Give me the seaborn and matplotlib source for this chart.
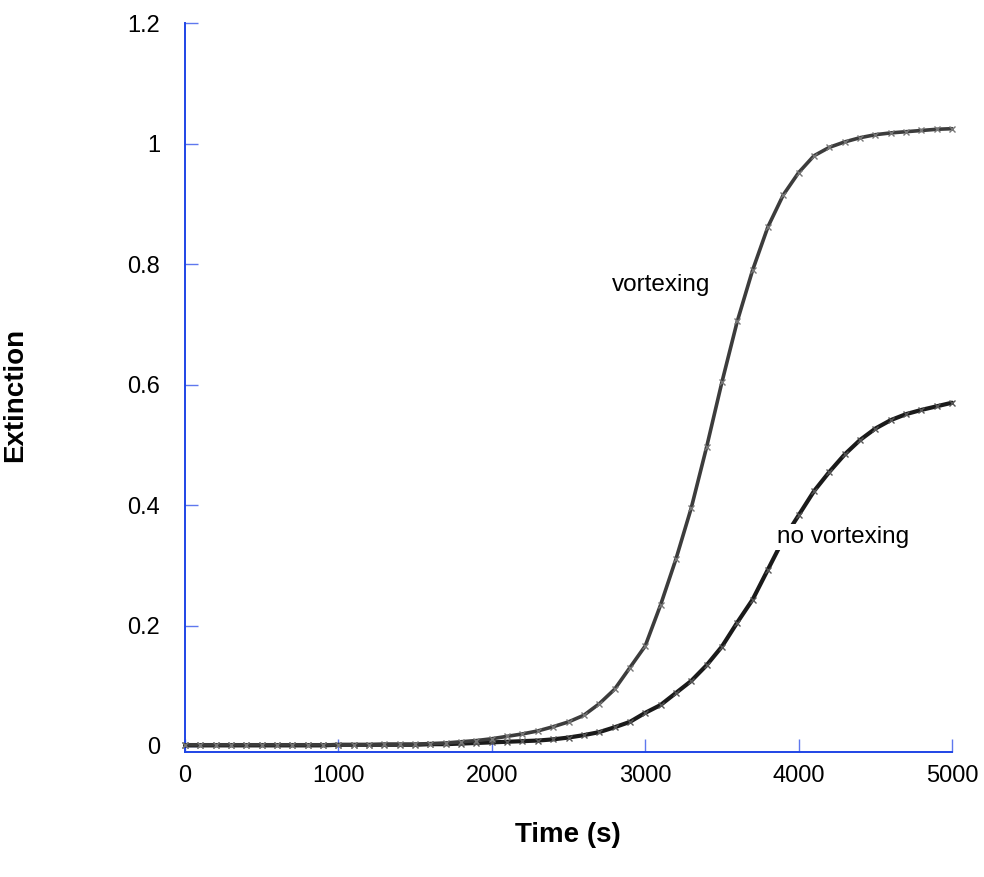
import numpy as np
import pandas as pd
import matplotlib
matplotlib.use("Agg")
import matplotlib.pyplot as plt
import seaborn as sns

time_s = list(range(0, 5001, 100))

vortexing = [0.002, 0.002, 0.002, 0.002, 0.002, 0.002, 0.002, 0.002, 0.002, 0.002,
             0.002, 0.002, 0.002, 0.003, 0.003, 0.003, 0.004, 0.005, 0.007, 0.009,
             0.012, 0.016, 0.020, 0.025, 0.032, 0.040, 0.051, 0.070, 0.094, 0.130,
             0.166, 0.234, 0.310, 0.395, 0.496, 0.604, 0.705, 0.790, 0.862, 0.915,
             0.952, 0.980, 0.994, 1.003, 1.010, 1.015, 1.018, 1.020, 1.022, 1.024,
             1.025]

no_vortexing = [0.001, 0.001, 0.001, 0.001, 0.001, 0.001, 0.001, 0.001, 0.001, 0.001,
                0.002, 0.002, 0.002, 0.002, 0.002, 0.002, 0.003, 0.003, 0.004, 0.005,
                0.006, 0.007, 0.008, 0.009, 0.011, 0.014, 0.018, 0.023, 0.031, 0.040,
                0.055, 0.068, 0.088, 0.108, 0.134, 0.165, 0.205, 0.243, 0.293, 0.343,
                0.383, 0.423, 0.455, 0.484, 0.508, 0.527, 0.541, 0.551, 0.558, 0.564,
                0.570]

series_names = ["vortexing", "no vortexing"]
x_ticks = [0, 1000, 2000, 3000, 4000, 5000]
y_ticks = [0, 0.2, 0.4, 0.6, 0.8, 1.0, 1.2]
y_tick_labels = ["0", "0.2", "0.4", "0.6", "0.8", "1", "1.2"]

df = pd.DataFrame({
    "Time (s)": time_s * 2,
    "Extinction": vortexing + no_vortexing,
    "series": [series_names[0]] * len(time_s) + [series_names[1]] * len(time_s),
})

sns.set_style("white")
plt.rcParams["font.family"] = ["Liberation Sans", "DejaVu Sans"]
plt.rcParams["text.color"] = "black"
plt.rcParams["axes.labelcolor"] = "black"

fig = plt.figure(figsize=(9.84, 8.77), dpi=100)
ax = fig.add_axes([185 / 984, 1 - 752 / 877, 767 / 984, (752 - 23.3) / 877])

sns.lineplot(data=df[df["series"] == "no vortexing"], x="Time (s)", y="Extinction",
             color="#1a1a1a", marker="x", markersize=4.5, markeredgewidth=1.0,
             linewidth=3.0, markeredgecolor="#555555", legend=False, ax=ax,
             clip_on=False, zorder=3)
sns.lineplot(data=df[df["series"] == "vortexing"], x="Time (s)", y="Extinction",
             color="#3c3c3c", marker="x", markersize=4.5, markeredgewidth=1.0,
             linewidth=2.6, markeredgecolor="#777777", legend=False, ax=ax,
             clip_on=False, zorder=3)

ax.set_xlim(0, 5000)
ax.set_ylim(-0.01, 1.2)
ax.set_xticks(x_ticks)
ax.set_xticklabels([str(v) for v in x_ticks])
ax.set_yticks(y_ticks)
ax.set_yticklabels(y_tick_labels)
ax.set_xlabel("")
ax.set_ylabel("")

blue = "#1f45e6"
for side in ["top", "right"]:
    ax.spines[side].set_visible(False)
for side in ["left", "bottom"]:
    ax.spines[side].set_color(blue)
    ax.spines[side].set_linewidth(1.4)

ax.tick_params(axis="both", which="major", bottom=True, left=True, direction="in",
               length=9.5, width=1.0, color="#5f78ee", labelsize=17, labelcolor="black")
ax.tick_params(axis="y", pad=18)
ax.tick_params(axis="x", pad=9)

ax.set_xlabel("Time (s)", fontsize=20, fontweight="bold", va="center")
ax.xaxis.set_label_coords(0.4994, (752 - 835) / 729)
ax.set_ylabel("Extinction", fontsize=20, fontweight="bold", va="center")
ax.yaxis.set_label_coords((15 - 185) / 767, 0.49)

ax.text(2783, 0.766, "vortexing", fontsize=17.5, ha="left", va="center", zorder=5)
ax.text(3859, 0.347, "no vortexing", fontsize=17.5, ha="left", va="center", zorder=5,
        bbox=dict(facecolor="white", edgecolor="none", pad=1.5))

fig.savefig("out.png", dpi=100)
